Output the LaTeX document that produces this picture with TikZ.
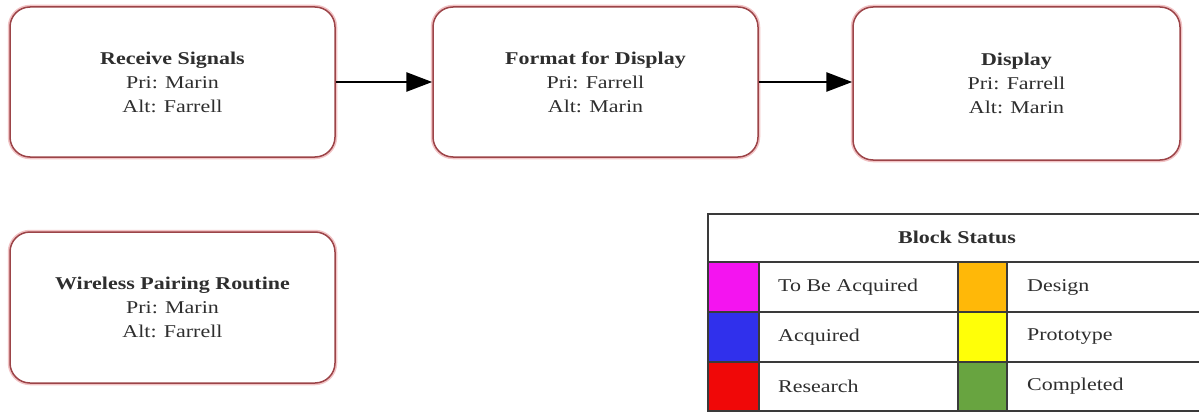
\documentclass[tikz,border=0pt]{standalone}
\usepackage{fontspec}
\setmainfont{Liberation Serif}[FakeStretch=1.22]
\usetikzlibrary{arrows.meta}
\definecolor{boxline}{HTML}{9C4448}
\definecolor{boxglow}{HTML}{F2C4C6}
\definecolor{txt}{HTML}{2E2E2E}
\definecolor{tabline}{HTML}{3A3A3A}
\definecolor{cmag}{HTML}{F414F0}
\definecolor{cblue}{HTML}{3030EC}
\definecolor{cred}{HTML}{F00808}
\definecolor{corange}{HTML}{FFB808}
\definecolor{cyellow}{HTML}{FFFF08}
\definecolor{cgreen}{HTML}{68A440}
\tikzset{
  blockbox/.style={draw=boxline, line width=1.5pt, rounded corners=20pt, fill=white,
    preaction={draw=boxglow, line width=4.5pt},
    minimum width=325pt, minimum height=150pt, align=center, text=txt,
    font=\fontsize{18}{24}\selectfont, inner sep=0pt},
  flowarrow/.style={line width=2.8pt, -{Triangle[length=26pt,width=19pt]}},
  cellbox/.style={draw=tabline, line width=1.6pt, rectangle, inner sep=0pt, anchor=north west},
  celltext/.style={anchor=west, text=txt, font=\fontsize{18}{22}\selectfont, inner sep=0pt},
}
\begin{document}
\begin{tikzpicture}[x=1pt,y=-1pt]
\useasboundingbox (0,0) rectangle (1199,412);
\fill[white] (0,0) rectangle (1199,412);

\node[blockbox] (recv) at (172.5,82) {\textbf{Receive Signals}\\Pri: Marin\\Alt: Farrell};
\node[blockbox] (fmt) at (595.5,82) {\textbf{Format for Display}\\Pri: Farrell\\Alt: Marin};
\node[blockbox, minimum width=327pt, minimum height=153pt] (disp) at (1016.5,83.5) {\textbf{Display}\\Pri: Farrell\\Alt: Marin};
\node[blockbox, minimum height=151pt] (wpr) at (172.5,307.5) {\textbf{Wireless Pairing Routine}\\Pri: Marin\\Alt: Farrell};

\draw[flowarrow] (recv.east) -- (fmt.west);
\draw[flowarrow] (fmt.east) -- (fmt.east -| disp.west);

% legend table
\node[cellbox, minimum width=500pt, minimum height=48pt] (hdr) at (707,213) {};
\node[text=txt, font=\bfseries\fontsize{18}{22}\selectfont] (hdrtxt) at (957,237) {Block Status};

\node[cellbox, fill=cmag, minimum width=51pt, minimum height=50pt] (s1) at (707,261) {};
\node[cellbox, fill=cblue, minimum width=51pt, minimum height=50pt] (s2) at (707,311) {};
\node[cellbox, fill=cred, minimum width=51pt, minimum height=49pt] (s3) at (707,361) {};
\node[cellbox, minimum width=199pt, minimum height=50pt] (c1) at (758,261) {};
\node[cellbox, minimum width=199pt, minimum height=50pt] (c2) at (758,311) {};
\node[cellbox, minimum width=199pt, minimum height=49pt] (c3) at (758,361) {};
\node[cellbox, fill=corange, minimum width=49pt, minimum height=50pt] (s4) at (957,261) {};
\node[cellbox, fill=cyellow, minimum width=49pt, minimum height=50pt] (s5) at (957,311) {};
\node[cellbox, fill=cgreen, minimum width=49pt, minimum height=49pt] (s6) at (957,361) {};
\node[cellbox, minimum width=201pt, minimum height=50pt] (c4) at (1006,261) {};
\node[cellbox, minimum width=201pt, minimum height=50pt] (c5) at (1006,311) {};
\node[cellbox, minimum width=201pt, minimum height=49pt] (c6) at (1006,361) {};

\node[celltext] (t1) at (778,287) {To Be Acquired};
\node[celltext] (t2) at (778,337) {Acquired};
\node[celltext] (t3) at (778,386) {Research};
\node[celltext] (t4) at (1027,287) {Design};
\node[celltext] (t5) at (1027,337) {Prototype};
\node[celltext] (t6) at (1027,386) {Completed};
\end{tikzpicture}
\end{document}
